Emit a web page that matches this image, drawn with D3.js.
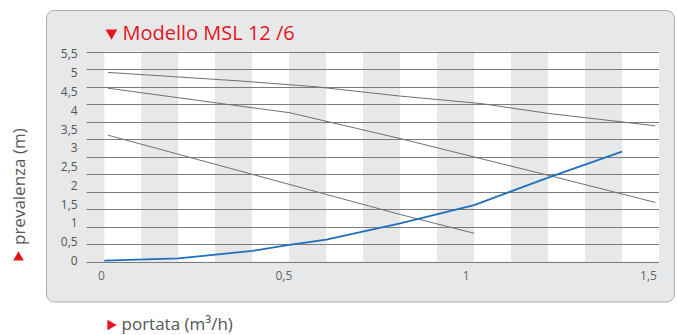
<!DOCTYPE html>
<html>
<head>
<meta charset="utf-8">
<script src="https://cdn.jsdelivr.net/npm/d3@7"></script>
<style>
  html, body { margin: 0; padding: 0; background: #fff; }
  svg { display: block; font-family: "Open Sans", "Noto Sans", sans-serif; }
</style>
</head>
<body>
<svg id="chart" width="677" height="335"></svg>
<script>
// ---- data ----
const title = "Modello MSL 12 /6";
const xAxisLabel = "portata (m³/h)";
const yAxisLabel = "prevalenza (m)";
const xTicks = [0, 0.5, 1, 1.5];
const xTickLabels = ["0", "0,5", "1", "1,5"];
const yTicks = [0, 0.5, 1, 1.5, 2, 2.5, 3, 3.5, 4, 4.5, 5, 5.5];
const yTickLabels = ["0", "0,5", "1", "1,5", "2", "2,5", "3", "3,5", "4", "4,5", "5", "5,5"];
const gridLineCount = 13;
const stripeCount = 15;

// pump curves (portata, prevalenza)
const curveHigh = [[0.01, 5.01], [0.37, 4.78], [0.57, 4.63], [0.8, 4.38], [1.02, 4.18], [1.2, 3.92], [1.49, 3.59]];
const curveMid  = [[0.01, 4.59], [0.37, 4.11], [0.5, 3.94], [0.8, 3.25], [1.0, 2.76], [1.21, 2.25], [1.49, 1.55]];
const curveLow  = [[0.01, 3.34], [0.8, 1.23], [1.0, 0.73]];
// system curve
const systemCurve = [[0, 0], [0.2, 0.06], [0.4, 0.26], [0.5, 0.42], [0.6, 0.56], [0.8, 0.99], [1.0, 1.48], [1.2, 2.21], [1.4, 2.9]];

// ---- layout ----
const svg = d3.select("#chart");
const red = "#e3161e";
const panelFill = "#e7e8ea";
const gridColor = "#7b7b7b";

const x = d3.scaleLinear().domain([0, 1.5]).range([104.3, 659]);
const xLabel = d3.scaleLinear().domain([0, 1.5]).range([101, 648]);
const y = d3.scaleLinear().domain([0, 5.5]).range([260.7, 54]);
const grid = d3.scaleLinear().domain([0, gridLineCount - 1]).range([261.5, 51.5]);

// panel
svg.append("rect")
  .attr("x", 46.5).attr("y", 10.5).attr("width", 628).attr("height", 291.5)
  .attr("rx", 8).attr("ry", 8)
  .attr("fill", panelFill).attr("stroke", "#adadad").attr("stroke-width", 1);

// stripes
const stripeW = 1.5 / stripeCount;
svg.append("g").selectAll("rect")
  .data(d3.range(stripeCount))
  .join("rect")
  .attr("x", i => x(i * stripeW))
  .attr("width", i => x((i + 1) * stripeW) - x(i * stripeW))
  .attr("y", grid(gridLineCount - 1))
  .attr("height", grid(0) - grid(gridLineCount - 1))
  .attr("fill", i => i % 2 === 0 ? "#ffffff" : panelFill);

// grid lines
svg.append("g").selectAll("line")
  .data(d3.range(gridLineCount))
  .join("line")
  .attr("x1", 86.7).attr("x2", x(1.5))
  .attr("y1", i => Math.round(grid(i)) + 0.5)
  .attr("y2", i => Math.round(grid(i)) + 0.5)
  .attr("stroke", gridColor).attr("stroke-width", 1);

// axes (labels only)
const yAxis = d3.axisLeft(y).tickValues(yTicks)
  .tickFormat((d, i) => yTickLabels[i]).tickSize(0).tickPadding(9);
const gy = svg.append("g").attr("transform", "translate(86.7,0)").call(yAxis);
gy.select(".domain").remove();
gy.selectAll("text").attr("fill", "#555").style("font-size", "12px")
  .style("font-family", '"Open Sans", sans-serif');

const xAxis = d3.axisBottom(xLabel).tickValues(xTicks)
  .tickFormat((d, i) => xTickLabels[i]).tickSize(0).tickPadding(10.4);
const gx = svg.append("g").attr("transform", "translate(0,261.3)").call(xAxis);
gx.select(".domain").remove();
gx.selectAll("text").attr("fill", "#666").style("font-size", "12px")
  .style("font-family", '"Open Sans", sans-serif');

// curves
const line = d3.line().x(d => x(d[0])).y(d => y(d[1]));
[curveHigh, curveMid, curveLow].forEach(c => {
  svg.append("path").datum(c).attr("d", line)
    .attr("fill", "none").attr("stroke", "#707070").attr("stroke-width", 1);
});
svg.append("path").datum(systemCurve).attr("d", line)
  .attr("fill", "none").attr("stroke", "#1f6fba").attr("stroke-width", 1.8)
  .attr("stroke-linejoin", "round");

// title
svg.append("path")
  .attr("d", d3.symbol().type(d3.symbolTriangle).size(60))
  .attr("transform", "translate(111.5,33) rotate(180)")
  .attr("fill", red);
svg.append("text").attr("x", 122.5).attr("y", 40)
  .attr("fill", red).style("font-size", "20px").text(title);

// x axis label
svg.append("path")
  .attr("d", d3.symbol().type(d3.symbolTriangle).size(50))
  .attr("transform", "translate(110.5,325) rotate(90)")
  .attr("fill", red);
svg.append("text").attr("x", 121.5).attr("y", 329.5)
  .attr("fill", "#555").style("font-size", "17px").text(xAxisLabel);

// y axis label
svg.append("path")
  .attr("d", d3.symbol().type(d3.symbolTriangle).size(50))
  .attr("transform", "translate(18.5,257.5)")
  .attr("fill", red);
svg.append("text")
  .attr("transform", "translate(25,245) rotate(-90)")
  .attr("fill", "#555").style("font-size", "17px").text(yAxisLabel);
</script>
</body>
</html>
